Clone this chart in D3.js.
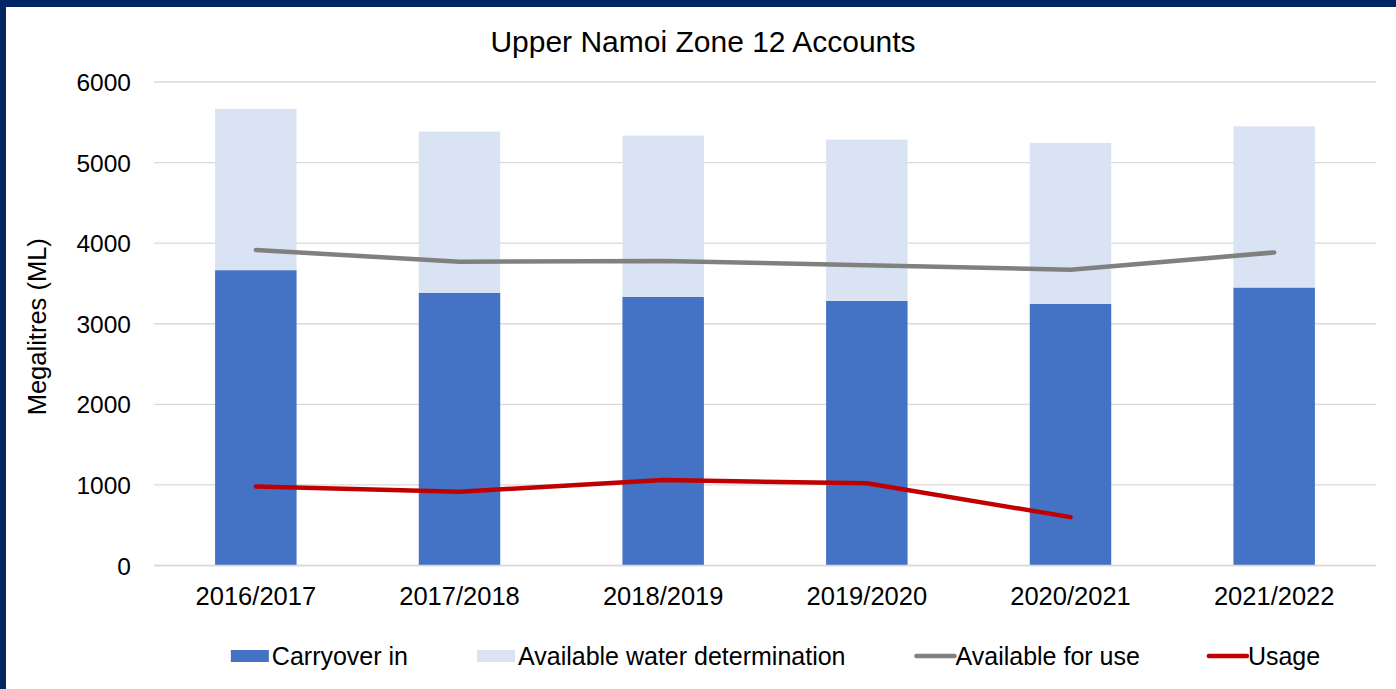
<!DOCTYPE html>
<html>
<head>
<meta charset="utf-8">
<script src="https://cdn.jsdelivr.net/npm/d3@7"></script>
<style>
  html, body { margin: 0; padding: 0; background: #fff; }
  svg { display: block; font-family: "Liberation Sans", Arial, sans-serif; }
</style>
</head>
<body>
<svg id="chart" width="1396" height="689"></svg>
<script>
const categories = ["2016/2017", "2017/2018", "2018/2019", "2019/2020", "2020/2021", "2021/2022"];
const carryoverIn = [3665, 3385, 3335, 3285, 3245, 3450];
const availableWaterDetermination = [2000, 2000, 2000, 2000, 2000, 2000];
const availableForUse = [3915, 3770, 3780, 3725, 3670, 3885];
const usage = [980, 915, 1060, 1020, 600];
const yTicks = [0, 1000, 2000, 3000, 4000, 5000, 6000];
const titleText = "Upper Namoi Zone 12 Accounts";
const yLabel = "Megalitres (ML)";
const legendItems = [
  { name: "Carryover in", type: "rect", color: "#4472C4" },
  { name: "Available water determination", type: "rect", color: "#DAE3F3" },
  { name: "Available for use", type: "line", color: "#808080" },
  { name: "Usage", type: "line", color: "#C00000" }
];

const W = 1396, H = 689;
const svg = d3.select("#chart");
const font = "'Liberation Sans', Arial, sans-serif";

// frame border
svg.append("rect").attr("x", 0).attr("y", 0).attr("width", W).attr("height", H).attr("fill", "#fff");
svg.append("rect").attr("x", 0).attr("y", 0).attr("width", W).attr("height", 7).attr("fill", "#002664");
svg.append("rect").attr("x", 0).attr("y", 0).attr("width", 6).attr("height", H).attr("fill", "#002664");

const plot = { left: 154, right: 1376, top: 82, bottom: 565.5 };

const x = d3.scaleBand().domain(categories).range([plot.left, plot.right]).paddingInner(0.6).paddingOuter(0.3);
const y = d3.scaleLinear().domain([0, 6000]).range([plot.bottom, plot.top]);

// gridlines
svg.append("g").selectAll("line").data(yTicks).join("line")
  .attr("x1", plot.left).attr("x2", plot.right)
  .attr("y1", d => y(d)).attr("y2", d => y(d))
  .attr("stroke", "#D9D9D9").attr("stroke-width", 1.3);

// y axis labels
const yAxis = d3.axisLeft(y).tickValues(yTicks).tickSize(0).tickPadding(0).tickFormat(d3.format("d"));
const yg = svg.append("g").attr("transform", `translate(${plot.left - 23},0)`).call(yAxis);
yg.select(".domain").remove();
yg.selectAll("text").attr("font-size", 24.5).attr("font-family", font).attr("fill", "#000").attr("dy", "0.35em");

// stacked bars
const stackData = categories.map((c, i) => ({ cat: c, carry: carryoverIn[i], awd: availableWaterDetermination[i] }));
const stack = d3.stack().keys(["carry", "awd"])(stackData);
const colors = { carry: "#4472C4", awd: "#DAE3F3" };
svg.append("g").selectAll("g").data(stack).join("g")
  .attr("fill", d => colors[d.key])
  .selectAll("rect").data(d => d).join("rect")
  .attr("x", d => x(d.data.cat))
  .attr("width", x.bandwidth())
  .attr("y", d => y(d[1]))
  .attr("height", d => y(d[0]) - y(d[1]));

// baseline axis line
svg.append("line").attr("x1", plot.left).attr("x2", plot.right)
  .attr("y1", y(0)).attr("y2", y(0)).attr("stroke", "#D9D9D9").attr("stroke-width", 1.3);

// lines
const cx = i => x(categories[i]) + x.bandwidth() / 2;
const lineGen = d3.line().x((d, i) => cx(i)).y(d => y(d));
svg.append("path").datum(availableForUse).attr("d", lineGen)
  .attr("fill", "none").attr("stroke", "#808080").attr("stroke-width", 4.5)
  .attr("stroke-linecap", "round").attr("stroke-linejoin", "round");
svg.append("path").datum(usage).attr("d", lineGen)
  .attr("fill", "none").attr("stroke", "#C00000").attr("stroke-width", 4.5)
  .attr("stroke-linecap", "round").attr("stroke-linejoin", "round");

// x axis labels
const xAxis = d3.axisBottom(x).tickSize(0).tickPadding(0);
const xg = svg.append("g").attr("transform", `translate(0,${plot.bottom})`).call(xAxis);
xg.select(".domain").remove();
xg.selectAll("text").attr("font-size", 25.5).attr("font-family", font).attr("fill", "#000")
  .attr("dy", "0").attr("y", 39);

// title
svg.append("text").attr("x", 703).attr("y", 52).attr("text-anchor", "middle")
  .attr("font-size", 30).attr("fill", "#000").text(titleText);

// y label
svg.append("text").attr("transform", `translate(46,${(plot.top + plot.bottom) / 2 + 3}) rotate(-90)`)
  .attr("text-anchor", "middle").attr("font-size", 25.5).attr("fill", "#000").text(yLabel);

// legend
const legend = svg.append("g");
const swW = 38, gapTxt = 3, spacing = 69, legY = 656;
const items = legend.selectAll("g").data(legendItems).join("g");
items.each(function(d) {
  const g = d3.select(this);
  if (d.type === "rect") {
    g.append("rect").attr("x", 0).attr("y", legY - 6).attr("width", swW).attr("height", 12).attr("fill", d.color);
  } else {
    g.append("line").attr("x1", 2).attr("x2", swW + 2).attr("y1", legY).attr("y2", legY)
      .attr("stroke", d.color).attr("stroke-width", 4.5).attr("stroke-linecap", "round");
  }
  g.append("text").attr("x", swW + gapTxt).attr("y", legY + 9).attr("font-size", 25).attr("fill", "#000").text(d.name);
});
const widths = [];
items.each(function() { widths.push(this.getBBox().width); });
const total = d3.sum(widths) + spacing * (widths.length - 1);
let cur = 774.5 - total / 2;
items.attr("transform", (d, i) => { const t = `translate(${cur},0)`; cur += widths[i] + spacing; return t; });
</script>
</body>
</html>
